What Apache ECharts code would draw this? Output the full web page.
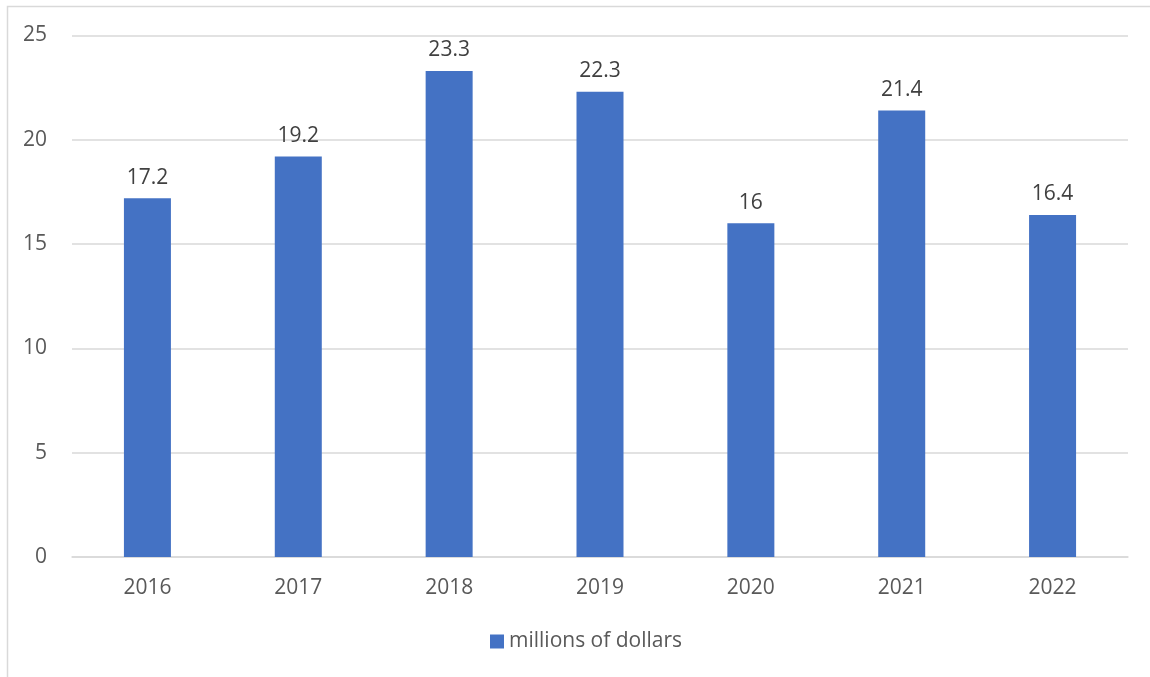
<!DOCTYPE html>
<html>
<head>
<meta charset="utf-8">
<script src="https://cdn.jsdelivr.net/npm/echarts@6/dist/echarts.min.js"></script>
<style>
html,body{margin:0;padding:0;background:#fff;}
#chart{width:1150px;height:677px;}
</style>
</head>
<body>
<div id="chart"></div>
<script>
var categories = ['2016','2017','2018','2019','2020','2021','2022'];
var values = [17.2, 19.2, 23.3, 22.3, 16, 21.4, 16.4];
var seriesName = 'millions of dollars';

var FONT = '"Open Sans", "Noto Sans", sans-serif';
var chart = echarts.init(document.getElementById('chart'), null, {renderer:'canvas'});
chart.setOption({
  animation:false,
  backgroundColor:'#ffffff',
  graphic:[{
    type:'rect', silent:true, z:-1,
    shape:{x:7.5, y:6.5, width:1300, height:800},
    style:{fill:'none', stroke:'#d9d9d9', lineWidth:1.5}
  }],
  grid:{left:72, right:22, top:35.5, bottom:120, containLabel:false},
  legend:{
    data:[seriesName],
    bottom:20, left:485,
    itemWidth:14, itemHeight:14, itemGap:7,
    icon:'rect',
    textStyle:{color:'#595959', fontSize:21, fontFamily:FONT}
  },
  xAxis:{
    type:'category', data:categories,
    axisLine:{show:true, lineStyle:{color:'#d9d9d9', width:1.5}},
    axisTick:{show:false},
    axisLabel:{color:'#595959', fontSize:21, fontFamily:FONT, margin:21}
  },
  yAxis:{
    type:'value', min:0, max:25, interval:5,
    axisLine:{show:false}, axisTick:{show:false},
    splitLine:{lineStyle:{color:'#d9d9d9', width:1.5}},
    axisLabel:{color:'#595959', fontSize:21, fontFamily:FONT, margin:25}
  },
  series:[{
    name:seriesName, type:'bar', data:values,
    barWidth:47,
    itemStyle:{color:'#4472C4'},
    label:{show:true, position:'top', distance:10, color:'#404040', fontSize:21, fontFamily:FONT}
  }]
});
</script>
</body>
</html>
